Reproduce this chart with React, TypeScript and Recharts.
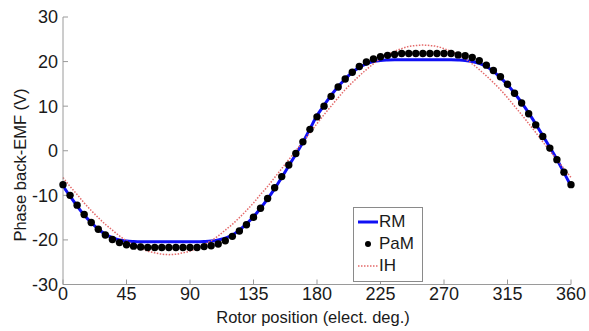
import { ComposedChart, Line, XAxis, YAxis } from "recharts";

const ANGLES = [
  0, 5, 10, 15, 20, 25, 30, 35, 40, 45, 50, 55, 60, 65, 70, 75, 80, 85, 90, 95,
  100, 105, 110, 115, 120, 125, 130, 135, 140, 145, 150, 155, 160, 165, 170, 175,
  180, 185, 190, 195, 200, 205, 210, 215, 220, 225, 230, 235, 240, 245, 250, 255,
  260, 265, 270, 275, 280, 285, 290, 295, 300, 305, 310, 315, 320, 325, 330, 335,
  340, 345, 350, 355, 360,
];

const RM = [
  -7.9, -10.2, -12.4, -14.4, -16.1, -17.6, -18.7, -19.5, -20.0, -20.25, -20.35, -20.4,
  -20.4, -20.4, -20.4, -20.4, -20.4, -20.4, -20.4, -20.4, -20.35, -20.25, -20.0, -19.6,
  -18.9, -17.8, -16.4, -14.8, -12.9, -10.8, -8.5, -6.0, -3.4, -0.8, 1.9, 4.9,
  7.9, 10.2, 12.4, 14.4, 16.1, 17.6, 18.7, 19.5, 20.0, 20.25, 20.35, 20.4,
  20.4, 20.4, 20.4, 20.4, 20.4, 20.4, 20.4, 20.4, 20.35, 20.25, 20.0, 19.6,
  18.9, 17.8, 16.4, 14.8, 12.9, 10.8, 8.5, 6.0, 3.4, 0.8, -1.9, -4.9, -7.9,
];

const PAM = [
  -7.6, -10.0, -12.2, -14.3, -16.1, -17.6, -18.9, -19.9, -20.6, -21.1, -21.4, -21.6,
  -21.7, -21.7, -21.7, -21.7, -21.7, -21.7, -21.7, -21.7, -21.5, -21.3, -20.9, -20.2,
  -19.2, -18.0, -16.6, -14.9, -12.9, -10.7, -8.3, -5.8, -3.2, -0.6, 2.0, 4.8,
  7.6, 10.0, 12.2, 14.3, 16.1, 17.6, 18.9, 19.9, 20.6, 21.1, 21.4, 21.6,
  21.8, 21.8, 21.8, 21.8, 21.8, 21.8, 21.8, 21.8, 21.5, 21.3, 20.9, 20.2,
  19.2, 18.0, 16.6, 14.9, 12.9, 10.7, 8.3, 5.8, 3.2, 0.6, -2.0, -4.8, -7.6,
];

const IH = [
  -6.0, -8.0, -9.8, -11.7, -13.4, -15.0, -16.5, -17.8, -19.1, -20.2, -21.1, -21.9,
  -22.5, -22.9, -23.2, -23.3, -23.2, -22.9, -22.5, -21.9, -21.1, -20.2, -19.1, -17.8,
  -16.5, -15.0, -13.4, -11.7, -9.8, -8.0, -6.0, -4.0, -2.0, 0.0, 2.0, 4.0,
  6.1, 8.1, 10.0, 11.9, 13.7, 15.3, 16.8, 18.2, 19.5, 20.6, 21.5, 22.3,
  22.9, 23.4, 23.6, 23.7, 23.6, 23.4, 22.9, 22.3, 21.5, 20.6, 19.5, 18.2,
  16.8, 15.3, 13.7, 11.9, 10.0, 8.1, 6.1, 4.1, 2.0, 0.0, -2.0, -4.0, -6.0,
];

const X_TICKS = [0, 45, 90, 135, 180, 225, 270, 315, 360];
const Y_TICKS = [-30, -20, -10, 0, 10, 20, 30];

const data = ANGLES.map((x, i) => ({ x, rm: RM[i], pam: PAM[i], ih: IH[i] }));

const FONT = "'Liberation Sans', Arial, sans-serif";
const AXIS = "#9a9a9a";
const BLUE = "#1010f4";
const RED = "#e46a6a";

const tickStyle = { fill: "#1a1a1a", fontSize: 18, fontFamily: FONT };

export default function App() {
  return (
    <div style={{ position: "absolute", left: 0, top: 0, width: 589, height: 331, background: "#fff", fontFamily: FONT }}>
      <ComposedChart width={589} height={331} data={data} margin={{ top: 17, right: 18, bottom: 0, left: 0 }}>
        <XAxis
          xAxisId="b"
          dataKey="x"
          type="number"
          domain={[0, 360]}
          ticks={X_TICKS}
          height={46.5}
          tickSize={-5}
          tickMargin={8}
          stroke={AXIS}
          tick={tickStyle}
        />
        <XAxis
          xAxisId="t"
          orientation="top"
          dataKey="x"
          type="number"
          domain={[0, 360]}
          ticks={X_TICKS}
          height={0}
          tickSize={-5}
          tick={false}
          stroke={AXIS}
        />
        <YAxis
          yAxisId="l"
          type="number"
          domain={[-30, 30]}
          ticks={Y_TICKS}
          width={63}
          tickSize={-5}
          tickMargin={10}
          stroke={AXIS}
          tick={tickStyle}
        />
        <YAxis
          yAxisId="r"
          orientation="right"
          type="number"
          domain={[-30, 30]}
          ticks={Y_TICKS}
          width={0}
          tickSize={-5}
          tick={false}
          stroke={AXIS}
        />
        <Line
          xAxisId="b"
          yAxisId="l"
          dataKey="rm"
          type="monotone"
          stroke={BLUE}
          strokeWidth={3}
          dot={false}
          isAnimationActive={false}
        />
        <Line
          xAxisId="b"
          yAxisId="l"
          dataKey="pam"
          stroke="none"
          dot={{ r: 3.7, fill: "#000", stroke: "none" }}
          isAnimationActive={false}
        />
        <Line
          xAxisId="b"
          yAxisId="l"
          dataKey="ih"
          type="monotone"
          stroke={RED}
          strokeWidth={1.5}
          strokeDasharray="1.5 1.5"
          dot={false}
          isAnimationActive={false}
        />
      </ComposedChart>

      <div
        style={{
          position: "absolute",
          left: 20,
          top: 165,
          transform: "translate(-50%, -50%) rotate(-90deg)",
          fontSize: 16.5,
          color: "#1a1a1a",
          whiteSpace: "nowrap",
        }}
      >
        Phase back-EMF (V)
      </div>
      <div
        style={{
          position: "absolute",
          left: 313,
          top: 317,
          transform: "translate(-50%, -50%)",
          fontSize: 16.5,
          color: "#1a1a1a",
          whiteSpace: "nowrap",
        }}
      >
        Rotor position (elect. deg.)
      </div>

      <div
        style={{
          position: "absolute",
          left: 353,
          top: 207,
          width: 68,
          height: 73,
          border: "1px solid #8a8a8a",
          background: "#fff",
          fontSize: 17,
          color: "#1a1a1a",
        }}
      >
        {[
          { name: "RM", kind: "line" },
          { name: "PaM", kind: "dot" },
          { name: "IH", kind: "dash" },
        ].map((e, i) => (
          <div key={e.name} style={{ position: "absolute", left: 3, top: 4 + i * 22, height: 20, display: "flex", alignItems: "center" }}>
            <svg width={22} height={20}>
              {e.kind === "line" && <line x1={1} x2={21} y1={10} y2={10} stroke={BLUE} strokeWidth={3} />}
              {e.kind === "dot" && <circle cx={11} cy={10} r={3} fill="#000" />}
              {e.kind === "dash" && (
                <line x1={1} x2={21} y1={10} y2={10} stroke={RED} strokeWidth={1.5} strokeDasharray="1.5 1.5" />
              )}
            </svg>
            <span>{e.name}</span>
          </div>
        ))}
      </div>
    </div>
  );
}
